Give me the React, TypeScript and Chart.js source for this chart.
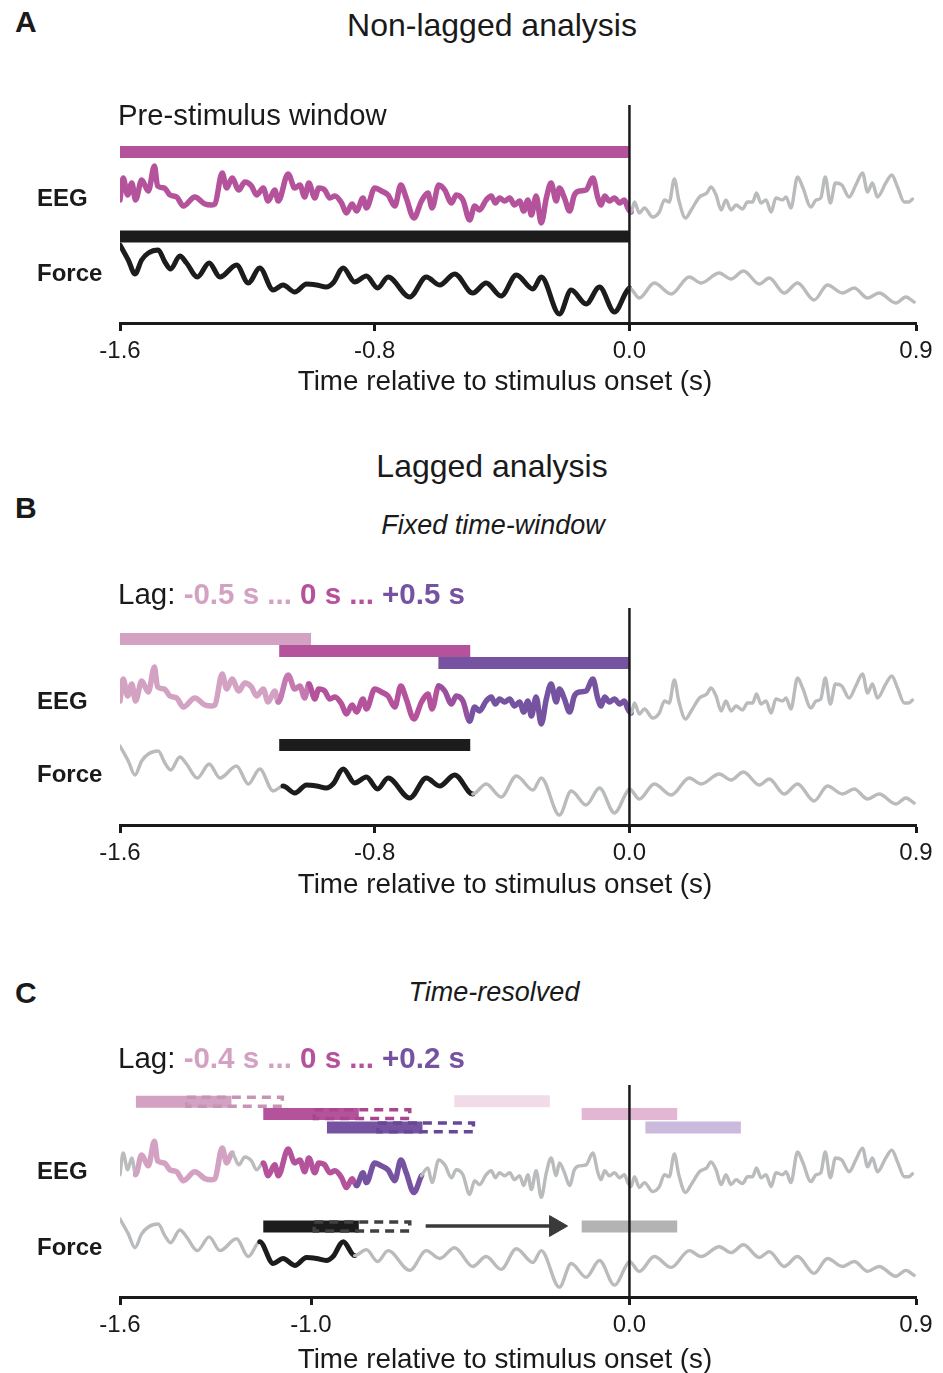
import React, { useEffect, useRef } from 'react';
import { Chart, registerables } from 'chart.js';

Chart.register(...registerables);
Chart.defaults.font.family = "'Liberation Sans', Arial, sans-serif";

// ---------------- data ----------------
const X_MIN = -1.6;
const X_MAX = 0.9;
const ONSET = 0;
const TICKS_AB = [-1.6, -0.8, 0.0, 0.9];
const TICKS_C = [-1.6, -1.0, 0.0, 0.9];
const X_TITLE = 'Time relative to stimulus onset (s)';

// EEG trace (time in s, amplitude in arbitrary units)
const EEG_TIME = [
  -1.600, -1.590, -1.576, -1.563, -1.551, -1.532, -1.511, -1.492, -1.482, -1.461,
  -1.443, -1.422, -1.401, -1.365, -1.333, -1.312, -1.302, -1.279, -1.265, -1.248,
  -1.227, -1.208, -1.187, -1.171, -1.150, -1.135, -1.114, -1.103, -1.072, -1.051,
  -1.035, -1.020, -1.007, -0.988, -0.976, -0.957, -0.941, -0.925, -0.904, -0.889,
  -0.871, -0.857, -0.837, -0.826, -0.800, -0.779, -0.758, -0.737, -0.718, -0.701,
  -0.677, -0.653, -0.633, -0.620, -0.599, -0.580, -0.559, -0.544, -0.523, -0.502,
  -0.486, -0.471, -0.450, -0.434, -0.421, -0.408, -0.392, -0.376, -0.361, -0.345,
  -0.332, -0.319, -0.308, -0.293, -0.277, -0.261, -0.246, -0.230, -0.220, -0.204,
  -0.188, -0.173, -0.157, -0.136, -0.115, -0.099, -0.089, -0.078, -0.063, -0.047,
  -0.031, -0.016, -0.005, 0.005, 0.016, 0.031, 0.047, 0.073, 0.094, 0.110,
  0.125, 0.141, 0.155, 0.176, 0.194, 0.220, 0.243, 0.256, 0.272, 0.288,
  0.303, 0.319, 0.335, 0.355, 0.371, 0.387, 0.399, 0.413, 0.429, 0.445,
  0.460, 0.481, 0.492, 0.507, 0.528, 0.544, 0.570, 0.586, 0.601, 0.615,
  0.631, 0.647, 0.667, 0.690, 0.711, 0.732, 0.748, 0.763, 0.779, 0.805,
  0.824, 0.842, 0.863, 0.878, 0.889,
];
const EEG_AMP = [
  0, 22, 5, 17, 0, 20, 9, 34, 14, 12,
  5, 3, -6, 3, -4, -5, -4, 27, 12, 22,
  10, 18, 14, 5, 12, -1, 10, -1, 26, 12,
  15, 3, 17, 2, 12, 10, 2, 4, -3, -13,
  -4, -11, 2, -8, 12, 9, 5, -6, 15, 2,
  -18, -1, 7, -8, 15, 10, -3, 5, 0, -20,
  -6, -10, 0, 4, -3, 2, -1, 2, -5, -1,
  -11, 0, -15, 4, -23, 2, 17, -1, 12, 2,
  -11, 5, 9, 10, 22, 2, -5, 4, -1, 2,
  -3, 0, -8, -12, -2, -13, -8, -17, -12, 0,
  -2, 21, 0, -18, -10, 3, 7, 13, 5, -10,
  0, -10, -5, -9, -2, -2, 7, -3, 0, -12,
  2, 0, 3, -8, 23, 13, -7, 0, 2, 23,
  -3, 17, 15, 3, 15, 27, 8, 17, 3, 17,
  25, 13, -2, -2, 1,
];

// Force trace
const FORCE_TIME = [
  -1.600, -1.574, -1.553, -1.532, -1.511, -1.480, -1.459, -1.441, -1.412, -1.391,
  -1.357, -1.320, -1.286, -1.234, -1.197, -1.161, -1.119, -1.088, -1.051, -1.014,
  -0.983, -0.952, -0.931, -0.899, -0.863, -0.826, -0.791, -0.758, -0.690, -0.638,
  -0.596, -0.549, -0.492, -0.450, -0.403, -0.355, -0.303, -0.277, -0.220, -0.183,
  -0.136, -0.094, -0.047, -0.010, 0.000, 0.031, 0.078, 0.131, 0.188, 0.225,
  0.282, 0.319, 0.358, 0.408, 0.439, 0.486, 0.528, 0.580, 0.622, 0.669,
  0.706, 0.748, 0.784, 0.837, 0.868, 0.894,
];
const FORCE_AMP = [
  35, 20, 6, 20, 27, 30, 18, 11, 24, 17,
  3, 17, 3, 15, -3, 12, -10, -5, -12, -4,
  -5, -7, -3, 12, -2, 4, -8, 3, -17, 3,
  -5, 6, -13, -3, -16, 5, -9, 3, -34, -10,
  -24, -7, -32, -12, -8, -18, -3, -14, 3, -3,
  7, 1, 9, -4, 2, -13, -3, -20, -5, -13,
  -8, -18, -13, -23, -17, -22,
];

// analysis windows (s)
const WIN_A = [-1.6, 0.0];
const WIN_B_EEG = [[-1.6, -1.0], [-1.1, -0.5], [-0.6, 0.0]]; // lag -0.5, 0, +0.5 s
const WIN_B_FORCE = [-1.1, -0.5];
const WIN_C_EEG = [[-1.55, -1.25], [-1.15, -0.85], [-0.95, -0.65]]; // lag -0.4, 0, +0.2 s
const WIN_C_FORCE = [-1.15, -0.85];
const WIN_C_NEXT_EEG = [[-0.55, -0.25], [-0.15, 0.15], [0.05, 0.35]];
const WIN_C_NEXT_FORCE = [-0.15, 0.15];
const SLIDE_STEP = 0.16;
const ARROW = [-0.64, -0.195];

// ---------------- styles ----------------
const INK = '#1a1a1a';
const GRAY = '#b9bbbd';
const LPINK = '#d3a1c1';
const MAG = '#b5529c';
const PURP = '#7553a1';
const BLEND_PM = '#c47ab0';
const BLEND_MP = '#99509f';
const BLACK = '#1c1c1c';
const FADE_PINK = '#f1dbe8';
const FADE_MAG = '#e3b6d4';
const FADE_PURP = '#cbbadd';
const FADE_GRAY = '#b3b3b3';
const ARROW_C = '#3a3a3a';
const DASH = { pink: '#c794b6', mag: '#a8478f', purp: '#684796', black: '#404040' };
const GRAY_W = 3.4;
const EEG_W = 5.5;
const FORCE_W = 5;

type Range = [number, number, string, number];

function styler(ranges: Range[]) {
  return (x: number) => {
    for (const r of ranges) if (x >= r[0] && x <= r[1]) return { c: r[2], w: r[3] };
    return { c: GRAY, w: GRAY_W };
  };
}

function trace(t: number[], v: number[], base: number, ranges: Range[], order: number) {
  const st = styler(ranges);
  const mid = (ctx: any) => (ctx.p0.parsed.x + ctx.p1.parsed.x) / 2;
  return {
    data: t.map((x, i) => ({ x, y: base + v[i] })),
    borderColor: GRAY,
    borderWidth: GRAY_W,
    pointRadius: 0,
    cubicInterpolationMode: 'monotone',
    borderCapStyle: 'round',
    borderJoinStyle: 'round',
    order,
    segment: {
      borderColor: (ctx: any) => st(mid(ctx)).c,
      borderWidth: (ctx: any) => st(mid(ctx)).w,
    },
  };
}

function bar(win: number[], level: number, color: string, order = 3, width = 12) {
  return {
    data: [{ x: win[0], y: level }, { x: win[1], y: level }],
    borderColor: color,
    borderWidth: width,
    borderCapStyle: 'butt',
    pointRadius: 0,
    tension: 0,
    order,
  };
}

function dashedRect(win: number[], level: number, color: string) {
  const h = 4.5;
  return {
    data: [
      { x: win[0], y: level + h }, { x: win[1], y: level + h },
      { x: win[1], y: level - h }, { x: win[0], y: level - h }, { x: win[0], y: level + h },
    ],
    borderColor: color,
    borderWidth: 3.5,
    borderDash: [9, 6],
    borderCapStyle: 'butt',
    pointRadius: 0,
    tension: 0,
    order: 2,
  };
}

function onsetLine(yMax: number) {
  return {
    data: [{ x: ONSET, y: 0 }, { x: ONSET, y: yMax }],
    borderColor: INK,
    borderWidth: 2.5,
    pointRadius: 0,
    tension: 0,
    order: 0,
  };
}

const shift = (w: number[]) => [w[0] + SLIDE_STEP, w[1] + SLIDE_STEP];

// Panel A: chart area 105..323 page px
const A_YMAX = 218;
const datasetsA = [
  onsetLine(A_YMAX),
  bar(WIN_A, 171, MAG),
  bar(WIN_A, 86.5, BLACK),
  trace(EEG_TIME, EEG_AMP, 123, [[WIN_A[0], WIN_A[1], MAG, EEG_W]], 4),
  trace(FORCE_TIME, FORCE_AMP, 43, [[WIN_A[0], WIN_A[1], BLACK, FORCE_W]], 4),
];

// Panel B: chart area 608..825
const B_YMAX = 217;
const [bw0, bw1, bw2] = WIN_B_EEG;
const datasetsB = [
  onsetLine(B_YMAX),
  bar(bw0, 186, LPINK),
  bar(bw1, 174, MAG),
  bar(bw2, 162, PURP),
  bar(WIN_B_FORCE, 80, BLACK),
  trace(EEG_TIME, EEG_AMP, 124, [
    [bw0[0], bw1[0], LPINK, EEG_W],
    [bw1[0], bw0[1], BLEND_PM, EEG_W],
    [bw0[1], bw2[0], MAG, EEG_W],
    [bw2[0], bw1[1], BLEND_MP, EEG_W],
    [bw1[1], bw2[1], PURP, EEG_W],
  ], 4),
  trace(FORCE_TIME, FORCE_AMP, 44, [[WIN_B_FORCE[0], WIN_B_FORCE[1], BLACK, FORCE_W]], 4),
];

// Panel C: chart area 1082..1297
const C_YMAX = 215;
const [cw0, cw1, cw2] = WIN_C_EEG;
const [nw0, nw1, nw2] = WIN_C_NEXT_EEG;
const datasetsC = [
  onsetLine(C_YMAX),
  {
    data: [{ x: ARROW[1] - 0.037, y: 72 }],
    pointStyle: 'triangle',
    rotation: 90,
    pointRadius: 12,
    backgroundColor: ARROW_C,
    borderColor: ARROW_C,
    borderWidth: 1,
    showLine: false,
    order: 1,
  },
  bar([ARROW[0], ARROW[1] - 0.037], 72, ARROW_C, 1, 3.5),
  dashedRect(shift(cw0), 198, DASH.pink),
  dashedRect(shift(cw1), 185.5, DASH.mag),
  dashedRect(shift(cw2), 172, DASH.purp),
  dashedRect(shift(WIN_C_FORCE), 71.5, DASH.black),
  bar(cw0, 198, LPINK),
  bar(cw1, 185.5, MAG),
  bar(cw2, 172, PURP),
  bar(WIN_C_FORCE, 71.5, BLACK),
  bar(nw0, 198.5, FADE_PINK),
  bar(nw1, 185.5, FADE_MAG),
  bar(nw2, 172, FADE_PURP),
  bar(WIN_C_NEXT_FORCE, 71.5, FADE_GRAY),
  trace(EEG_TIME, EEG_AMP, 124, [
    [cw0[0], cw0[1], LPINK, EEG_W],
    [cw1[0], cw1[1], MAG, EEG_W],
    [cw1[1], cw2[1], PURP, EEG_W],
  ], 4),
  trace(FORCE_TIME, FORCE_AMP, 44, [[WIN_C_FORCE[0], WIN_C_FORCE[1], BLACK, FORCE_W]], 4),
];

// ---------------- components ----------------
function PanelChart(props: {
  top: number; height: number; yMax: number; axisHeight: number;
  ticks: number[]; datasets: any[];
}) {
  const ref = useRef<HTMLCanvasElement>(null);
  useEffect(() => {
    const { yMax, axisHeight, ticks, datasets } = props;
    const chart = new Chart(ref.current as HTMLCanvasElement, {
      type: 'line',
      data: { datasets: datasets as any },
      options: {
        responsive: false,
        animation: false,
        events: [],
        layout: { padding: { left: 120, right: 27, top: 10, bottom: 0 } },
        plugins: { legend: { display: false }, tooltip: { enabled: false } },
        scales: {
          x: {
            type: 'linear',
            position: 'bottom',
            min: X_MIN,
            max: X_MAX,
            afterBuildTicks: (s: any) => { s.ticks = ticks.map((v) => ({ value: v })); },
            afterFit: (s: any) => { s.height = axisHeight; },
            border: { display: true, color: INK, width: 3 },
            grid: {
              display: true, drawOnChartArea: false, drawTicks: true,
              tickLength: 8, tickWidth: 3, tickColor: INK, color: INK,
            },
            ticks: {
              color: INK, font: { size: 24 }, padding: 6, autoSkip: false, maxRotation: 0,
              callback: (v: any) => Number(v).toFixed(1),
            },
            title: { display: false, text: X_TITLE },
          },
          y: { type: 'linear', display: false, min: 0, max: yMax },
        },
      } as any,
    });
    return () => chart.destroy();
  }, []);
  return (
    <canvas
      ref={ref}
      width={943}
      height={props.height}
      style={{ position: 'absolute', left: 0, top: props.top, width: 943, height: props.height }}
    />
  );
}

type TextProps = {
  text?: string; x: number; cy: number; size: number; bold?: boolean; italic?: boolean;
  center?: boolean; children?: React.ReactNode;
};
function Txt({ text, x, cy, size, bold, italic, center, children }: TextProps) {
  return (
    <div
      style={{
        position: 'absolute', left: x, top: cy - size / 2, fontSize: size, lineHeight: `${size}px`,
        whiteSpace: 'nowrap', fontWeight: bold ? 'bold' : 'normal', fontStyle: italic ? 'italic' : 'normal',
        transform: center ? 'translateX(-50%)' : undefined, color: INK,
      }}
    >
      {text}
      {children}
    </div>
  );
}

function LagLabel({ cy, a, b, c }: { cy: number; a: string; b: string; c: string }) {
  return (
    <Txt x={118} cy={cy} size={29.5}>
      Lag:{' '}
      <b style={{ color: LPINK }}>{a} ... </b>
      <b style={{ color: MAG }}>{b} ... </b>
      <b style={{ color: PURP }}>{c}</b>
    </Txt>
  );
}

export default function App() {
  useEffect(() => {
    document.body.style.margin = '0';
  }, []);
  return (
    <div
      style={{
        position: 'relative', width: 943, height: 1373, overflow: 'hidden', background: '#fff',
        fontFamily: "'Liberation Sans', Arial, sans-serif",
      }}
    >
      <PanelChart top={95} height={305} yMax={A_YMAX} axisHeight={77} ticks={TICKS_AB} datasets={datasetsA} />
      <PanelChart top={598} height={304} yMax={B_YMAX} axisHeight={77} ticks={TICKS_AB} datasets={datasetsB} />
      <PanelChart top={1072} height={301} yMax={C_YMAX} axisHeight={76} ticks={TICKS_C} datasets={datasetsC} />

      <Txt text="A" x={15} cy={22} size={30} bold />
      <Txt text="Non-lagged analysis" x={492} cy={25} size={32} center />
      <Txt text="Pre-stimulus window" x={118} cy={115} size={29.3} />
      <Txt text="EEG" x={37} cy={198} size={24} bold />
      <Txt text="Force" x={37} cy={273} size={24} bold />
      <Txt text={X_TITLE} x={505} cy={381} size={27.8} center />

      <Txt text="Lagged analysis" x={492} cy={466} size={32} center />
      <Txt text="B" x={15} cy={508} size={30} bold />
      <Txt text="Fixed time-window" x={493} cy={525} size={27} italic center />
      <LagLabel cy={594} a="-0.5 s" b="0 s" c="+0.5 s" />
      <Txt text="EEG" x={37} cy={701} size={24} bold />
      <Txt text="Force" x={37} cy={774} size={24} bold />
      <Txt text={X_TITLE} x={505} cy={884} size={27.8} center />

      <Txt text="C" x={15} cy={993} size={30} bold />
      <Txt text="Time-resolved" x={494} cy={992} size={27} italic center />
      <LagLabel cy={1058} a="-0.4 s" b="0 s" c="+0.2 s" />
      <Txt text="EEG" x={37} cy={1171} size={24} bold />
      <Txt text="Force" x={37} cy={1247} size={24} bold />
      <Txt text={X_TITLE} x={505} cy={1359} size={27.8} center />
    </div>
  );
}
